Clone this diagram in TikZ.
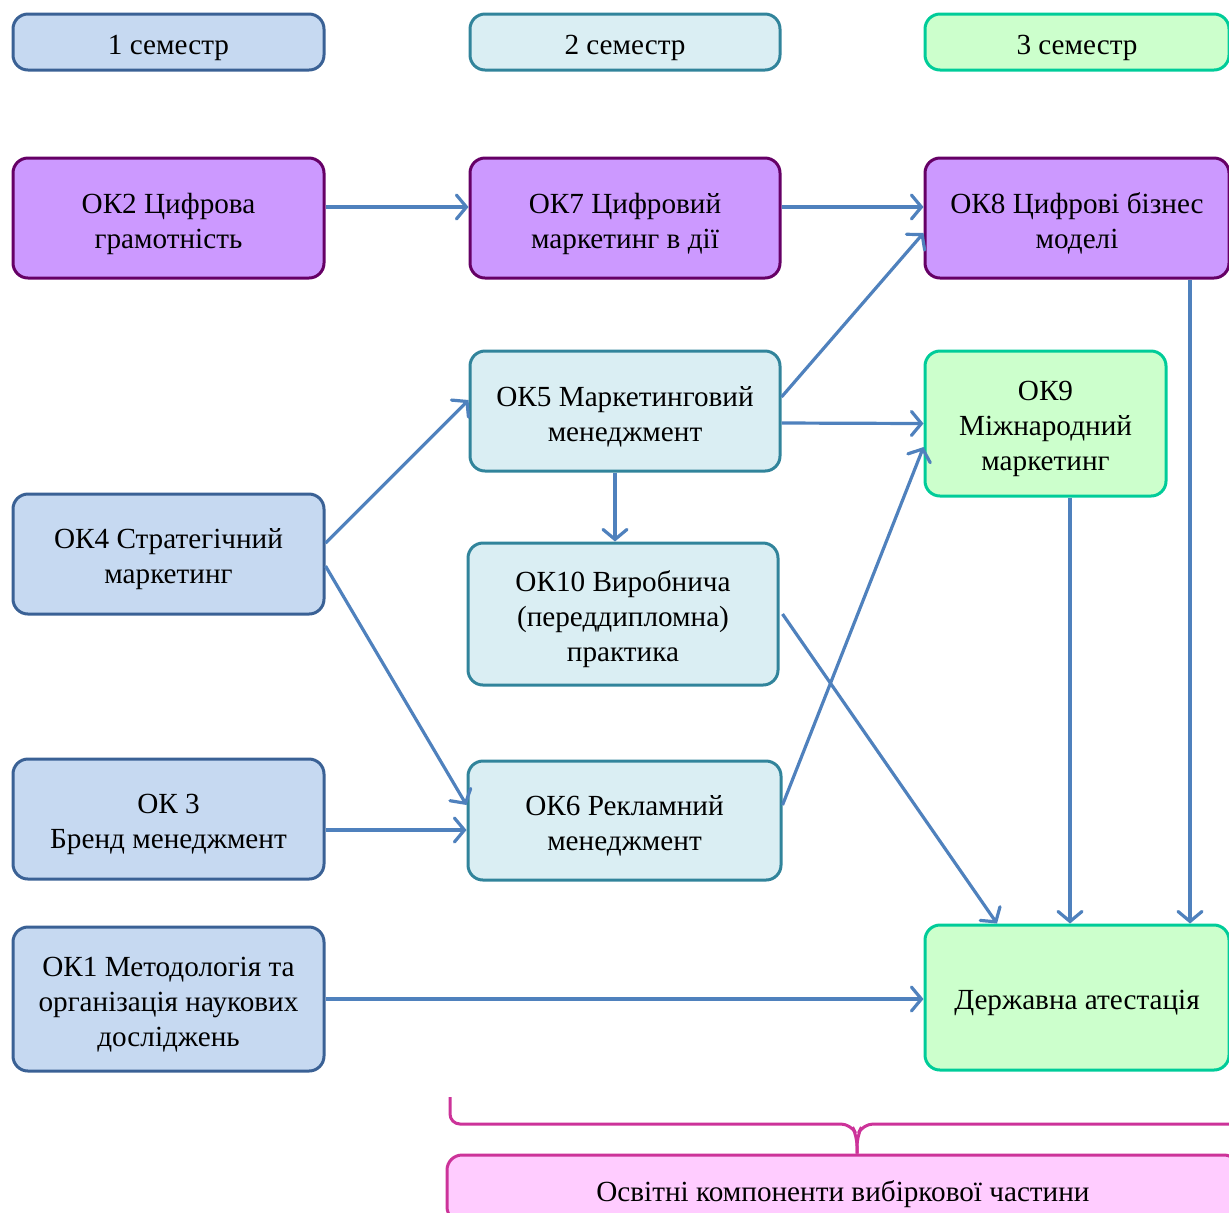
\documentclass[tikz,border=0pt]{standalone}
\usepackage{fontspec}
\setmainfont{Liberation Serif}
\usetikzlibrary{arrows.meta}

\definecolor{fillA}{HTML}{C6D9F1}
\definecolor{lineA}{HTML}{3A6195}
\definecolor{fillB}{HTML}{DAEEF3}
\definecolor{lineB}{HTML}{31849B}
\definecolor{fillC}{HTML}{CCFFCC}
\definecolor{lineC}{HTML}{00CC99}
\definecolor{fillP}{HTML}{CC99FF}
\definecolor{lineP}{HTML}{660066}
\definecolor{fillR}{HTML}{FFCCFF}
\definecolor{lineR}{HTML}{CC3399}
\definecolor{arrowc}{HTML}{4F81BD}

\begin{document}
\begin{tikzpicture}[x=0.5pt, y=-0.5pt,
  box/.style={draw, rounded corners=7.5pt, line width=1.5pt, align=center,
    inner sep=0pt, font=\fontsize{14.6}{17.5}\selectfont,
    execute at begin node={\vbox\bgroup\vskip5.5pt\hbox\bgroup},
    execute at end node={\egroup\egroup}},
  semA/.style={box, draw=lineA, fill=fillA},
  semB/.style={box, draw=lineB, fill=fillB},
  semC/.style={box, draw=lineC, fill=fillC},
  digi/.style={box, draw=lineP, fill=fillP},
  link/.style={-{Straight Barb[length=5pt,width=12pt,line cap=round]}, line width=1.6pt, arrowc}]
  \useasboundingbox (0,0) rectangle (1229,1212);
  \clip (0,0) rectangle (1229,1212);

  % semester headers
  \node[semA, minimum width=155.5pt, minimum height=28pt] (s1) at (168.5,42) {1 семестр};
  \node[semB, minimum width=155pt, minimum height=28pt] (s2) at (625,42) {2 семестр};
  \node[semC, minimum width=152pt, minimum height=28pt] (s3) at (1077,42) {3 семестр};

  % 1 semester
  \node[digi, minimum width=155.5pt, minimum height=60pt] (ok2) at (168.5,218) {ОК2 Цифрова\\грамотність};
  \node[semA, minimum width=155.5pt, minimum height=60pt] (ok4) at (168.5,554) {ОК4 Стратегічний\\маркетинг};
  \node[semA, minimum width=155.5pt, minimum height=60pt] (ok3) at (168.5,819) {ОК 3\\Бренд менеджмент};
  \node[semA, minimum width=155.5pt, minimum height=72pt] (ok1) at (168.5,999) {ОК1 Методологія та\\організація наукових\\досліджень};

  % 2 semester
  \node[digi, minimum width=155pt, minimum height=60pt] (ok7) at (625,218) {ОК7 Цифровий\\маркетинг в дії};
  \node[semB, minimum width=155pt, minimum height=60pt] (ok5) at (625,411) {ОК5 Маркетинговий\\менеджмент};
  \node[semB, minimum width=155pt, minimum height=71pt] (ok10) at (623,614) {ОК10 Виробнича\\(переддипломна)\\практика};
  \node[semB, minimum width=156.5pt, minimum height=59.5pt] (ok6) at (624.5,820.5) {ОК6 Рекламний\\менеджмент};

  % 3 semester
  \node[digi, minimum width=152pt, minimum height=60pt] (ok8) at (1077,218) {ОК8 Цифрові бізнес\\моделі};
  \node[semC, minimum width=120.5pt, minimum height=72.5pt] (ok9) at (1045.5,423.5) {ОК9\\Міжнародний\\маркетинг};
  \node[semC, minimum width=152pt, minimum height=72.5pt] (da) at (1077,997.5) {Державна атестація};

  % elective part
  \node[box, draw=lineR, fill=fillR, minimum width=396pt, minimum height=33.5pt] (vyb) at (843,1188.5) {Освітні компоненти вибіркової частини};
  \draw[lineR, line width=1.5pt, rounded corners=5pt]
    (450,1097) -- (450,1124) -- (851,1124) -- (857,1136) -- (vyb.north -| 857,0);
  \draw[lineR, line width=1.5pt, rounded corners=5pt]
    (vyb.north -| 857,0) -- (857,1136) -- (863,1124) -- (1264,1124) -- (1264,1097);

  % links
  \draw[link] ([yshift=5.5pt]ok2.east) -- ([yshift=5.5pt]ok7.west);
  \draw[link] ([yshift=5.5pt]ok7.east) -- ([yshift=5.5pt]ok8.west);
  \draw[link] ([yshift=7pt]ok5.east) -- ([yshift=-7.5pt]ok8.west);
  \draw[link] ([yshift=-6pt]ok5.east) -- (ok9.west);
  \draw[link] ([yshift=5.5pt]ok4.east) -- ([yshift=5.5pt]ok5.west);
  \draw[link] ([yshift=-6pt]ok4.east) -- ([yshift=7.75pt]ok6.west);
  \draw[link] ([xshift=-5pt]ok5.south) -- ([xshift=-4pt]ok10.north);
  \draw[link] ([yshift=-5.5pt]ok3.east) -- ([yshift=-4.75pt]ok6.west);
  \draw[link] ([yshift=7.75pt]ok6.east) -- ([yshift=-11.75pt]ok9.west);
  \draw[link] ([xshift=1.5pt]ok10.east) -- ([xshift=-40pt]da.north);
  \draw[link] ([xshift=12.25pt]ok9.south) -- ([xshift=-3.5pt]da.north);
  \draw[link] ([xshift=56.5pt]ok8.south) -- ([xshift=56.5pt]da.north);
  \draw[link] (ok1.east) -- (ok1.east -| da.west);
\end{tikzpicture}
\end{document}
